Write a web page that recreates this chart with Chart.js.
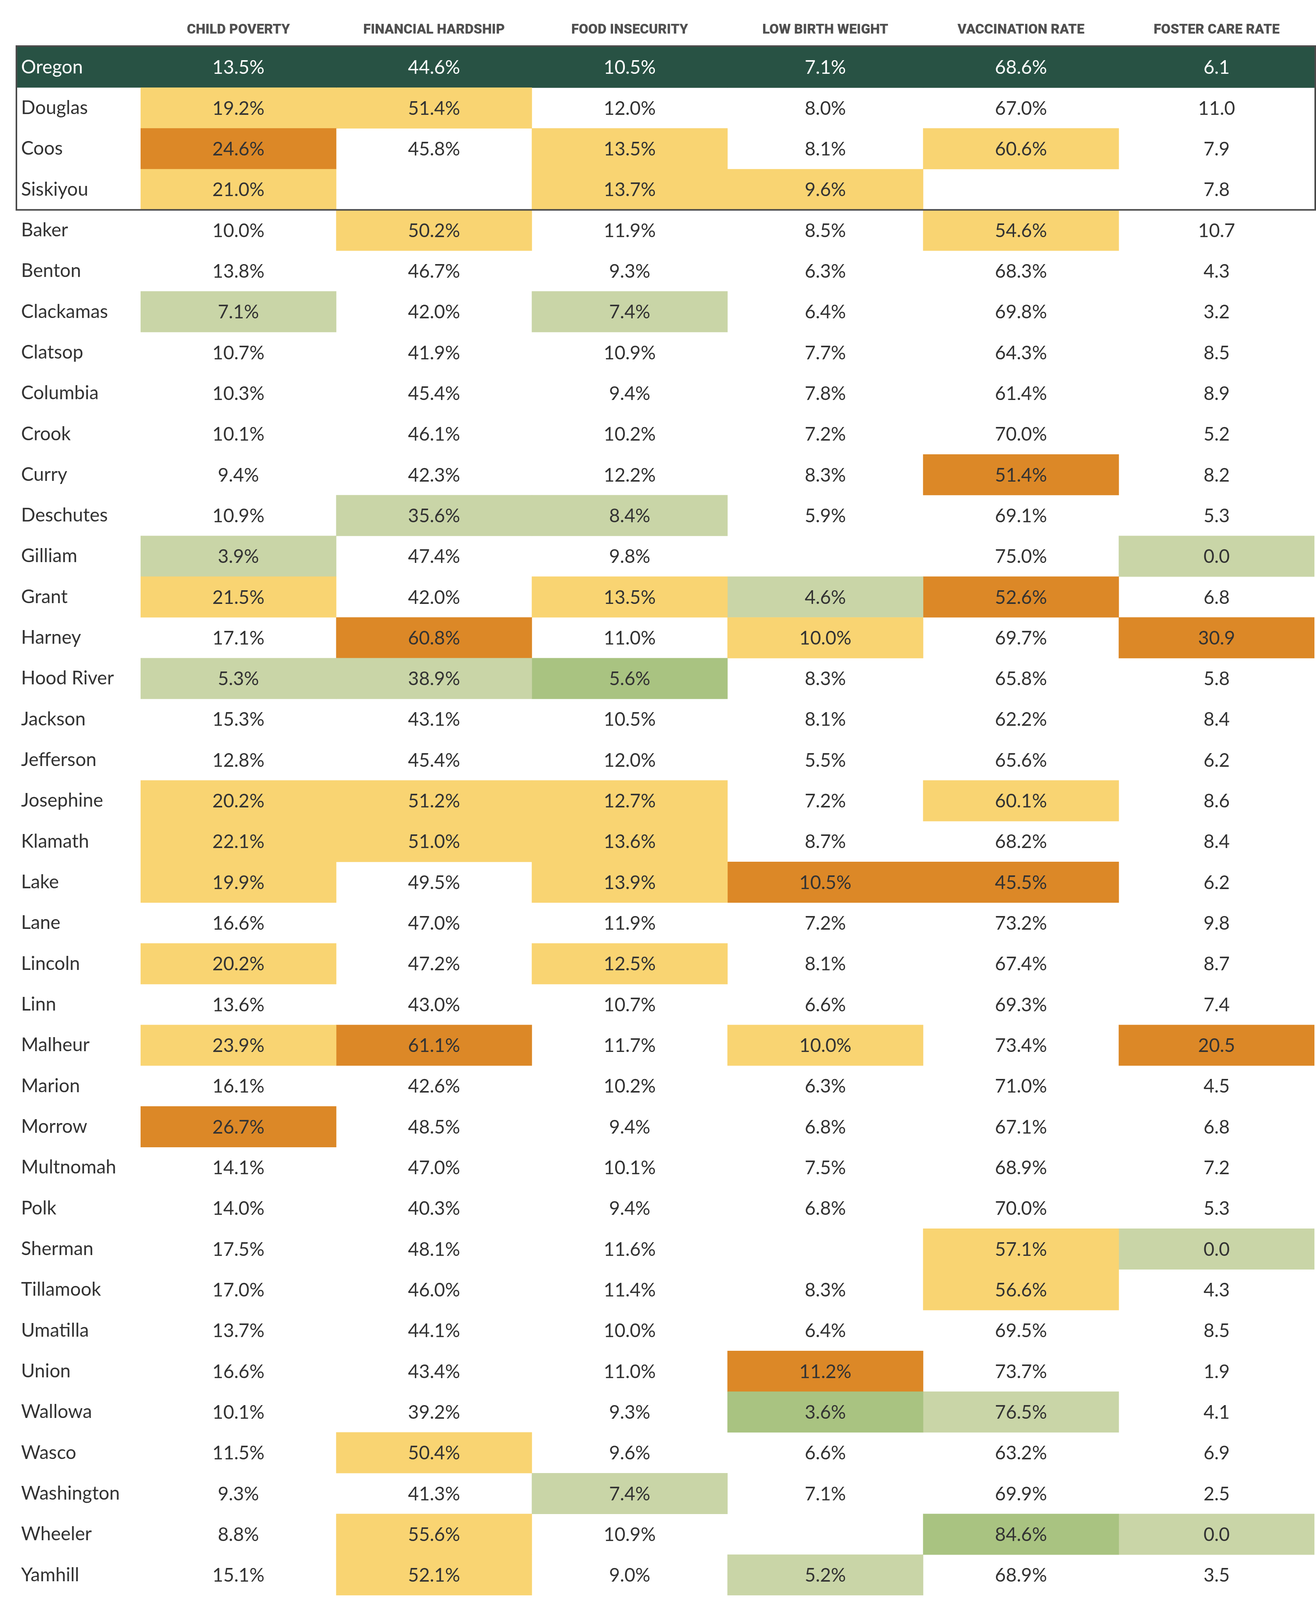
<!DOCTYPE html>
<html><head><meta charset="utf-8">
<script src="https://cdn.jsdelivr.net/npm/chart.js@4.4.1/dist/chart.umd.min.js"></script>
<style>html,body{margin:0;padding:0;background:#fff;}canvas{display:block;}</style>
</head><body>
<canvas id="c" width="3370" height="4116" style="width:3370px;height:4116px"></canvas>
<script>
// ---------- DATA ----------
const columns = ['CHILD POVERTY','FINANCIAL HARDSHIP','FOOD INSECURITY','LOW BIRTH WEIGHT','VACCINATION RATE','FOSTER CARE RATE'];
const counties = ['Oregon','Douglas','Coos','Siskiyou','Baker','Benton','Clackamas','Clatsop','Columbia','Crook','Curry','Deschutes','Gilliam','Grant','Harney','Hood River','Jackson','Jefferson','Josephine','Klamath','Lake','Lane','Lincoln','Linn','Malheur','Marion','Morrow','Multnomah','Polk','Sherman','Tillamook','Umatilla','Union','Wallowa','Wasco','Washington','Wheeler','Yamhill'];

const childPoverty      = [13.5,19.2,24.6,21.0,10.0,13.8,7.1,10.7,10.3,10.1,9.4,10.9,3.9,21.5,17.1,5.3,15.3,12.8,20.2,22.1,19.9,16.6,20.2,13.6,23.9,16.1,26.7,14.1,14.0,17.5,17.0,13.7,16.6,10.1,11.5,9.3,8.8,15.1];
const financialHardship = [44.6,51.4,45.8,null,50.2,46.7,42.0,41.9,45.4,46.1,42.3,35.6,47.4,42.0,60.8,38.9,43.1,45.4,51.2,51.0,49.5,47.0,47.2,43.0,61.1,42.6,48.5,47.0,40.3,48.1,46.0,44.1,43.4,39.2,50.4,41.3,55.6,52.1];
const foodInsecurity    = [10.5,12.0,13.5,13.7,11.9,9.3,7.4,10.9,9.4,10.2,12.2,8.4,9.8,13.5,11.0,5.6,10.5,12.0,12.7,13.6,13.9,11.9,12.5,10.7,11.7,10.2,9.4,10.1,9.4,11.6,11.4,10.0,11.0,9.3,9.6,7.4,10.9,9.0];
const lowBirthWeight    = [7.1,8.0,8.1,9.6,8.5,6.3,6.4,7.7,7.8,7.2,8.3,5.9,null,4.6,10.0,8.3,8.1,5.5,7.2,8.7,10.5,7.2,8.1,6.6,10.0,6.3,6.8,7.5,6.8,null,8.3,6.4,11.2,3.6,6.6,7.1,null,5.2];
const vaccinationRate   = [68.6,67.0,60.6,null,54.6,68.3,69.8,64.3,61.4,70.0,51.4,69.1,75.0,52.6,69.7,65.8,62.2,65.6,60.1,68.2,45.5,73.2,67.4,69.3,73.4,71.0,67.1,68.9,70.0,57.1,56.6,69.5,73.7,76.5,63.2,69.9,84.6,68.9];
const fosterCareRate    = [6.1,11.0,7.9,7.8,10.7,4.3,3.2,8.5,8.9,5.2,8.2,5.3,0.0,6.8,30.9,5.8,8.4,6.2,8.6,8.4,6.2,9.8,8.7,7.4,20.5,4.5,6.8,7.2,5.3,0.0,4.3,8.5,1.9,4.1,6.9,2.5,0.0,3.5];

// cell shading level per row: S = state row, Y = worse, O = much worse, L = better, G = much better, - = none
const childPovertyLevel      = ('SYOY' + '--L-----' + 'LY-L--' + 'YYY-Y-' + 'Y-O---' + '--------').split('');
const financialHardshipLevel = ('SY--Y' + '------L' + '--OL' + '--YY' + '----O' + '---------' + 'Y-YY').split('');
const foodInsecurityLevel    = ('S-YY' + '--L----L' + '-Y-G' + '--YYY-Y' + '------------' + 'L--').split('');
const lowBirthWeightLevel    = ('S--Y' + '---------' + 'LY' + '-----' + 'O' + '---' + 'Y' + '-------' + 'OG' + '---L').split('');
const vaccinationRateLevel   = ('S-Y-Y' + '-----' + 'O--O' + '----' + 'Y-O' + '--------' + 'YY--L--G-').split('');
const fosterCareRateLevel    = ('S' + '-----------' + 'L-O' + '---------' + 'O' + '----' + 'L' + '------' + 'L-').split('');

const columnValues = [childPoverty, financialHardship, foodInsecurity, lowBirthWeight, vaccinationRate, fosterCareRate];
const columnLevels = [childPovertyLevel, financialHardshipLevel, foodInsecurityLevel, lowBirthWeightLevel, vaccinationRateLevel, fosterCareRateLevel];
const columnSuffix = ['%','%','%','%','%',''];

// ---------- STYLE ----------
const LEVEL_COLORS = { S:'#285244', Y:'#f9d472', O:'#dc8827', L:'#c9d5a7', G:'#a9c381', '-':'rgba(255,255,255,0)' };
const TEXT = '#333333';
const BODY_FONT = 'Lato, "Noto Sans", sans-serif';
const BODY_SIZE = 48;

const datasets = columns.map((name, c) => ({
  label: name,
  data: counties.map(() => [c, c + 1]),
  values: columnValues[c],
  suffix: columnSuffix[c],
  backgroundColor: ctx => LEVEL_COLORS[columnLevels[c][ctx.dataIndex]] || LEVEL_COLORS['-'],
  borderWidth: 0,
  borderSkipped: false,
  grouped: false,
  barPercentage: 1,
  categoryPercentage: 1
}));

const tablePlugin = {
  id: 'tablePlugin',
  beforeDraw(chart) {
    const { ctx, chartArea, scales: { y } } = chart;
    ctx.save();
    ctx.fillStyle = '#ffffff';
    ctx.fillRect(0, 0, chart.width, chart.height);
    const band = y.getPixelForValue(1) - y.getPixelForValue(0);
    const top = y.getPixelForValue(0) - band / 2;
    const left = y.left - 12;
    ctx.fillStyle = LEVEL_COLORS.S;
    ctx.fillRect(left, top, chartArea.right + 2 - left, band);
    ctx.restore();
  },
  afterDatasetsDraw(chart) {
    const { ctx, chartArea, scales: { y } } = chart;
    ctx.save();
    ctx.font = `400 ${BODY_SIZE}px ${BODY_FONT}`;
    ctx.textAlign = 'center';
    ctx.textBaseline = 'alphabetic';
    chart.data.datasets.forEach((ds, di) => {
      const meta = chart.getDatasetMeta(di);
      meta.data.forEach((el, i) => {
        const v = ds.values[i];
        if (v === null || v === undefined) return;
        const p = el.getCenterPoint();
        ctx.fillStyle = i === 0 ? '#ffffff' : TEXT;
        ctx.fillText(v.toFixed(1) + ds.suffix, p.x, p.y + BODY_SIZE * 0.358);
      });
    });
    // box around the state row and the three highlighted counties
    const band = y.getPixelForValue(1) - y.getPixelForValue(0);
    const top = y.getPixelForValue(0) - band / 2;
    const bottom = y.getPixelForValue(3) + band / 2;
    const left = y.left - 12;
    ctx.strokeStyle = '#4a4a4a';
    ctx.lineWidth = 4;
    ctx.strokeRect(left, top - 2, chartArea.right + 2 - left, bottom - top + 2);
    ctx.restore();
  }
};

new Chart(document.getElementById('c'), {
  type: 'bar',
  data: { labels: counties, datasets },
  plugins: [tablePlugin],
  options: {
    indexAxis: 'y',
    responsive: false,
    animation: false,
    devicePixelRatio: 1,
    layout: { padding: { left: 54, top: 57, right: 4, bottom: 30 } },
    plugins: { legend: { display: false }, tooltip: { enabled: false } },
    scales: {
      x: { type: 'linear', min: 0, max: columns.length, display: false },
      xTop: {
        type: 'category',
        labels: columns,
        position: 'top',
        offset: true,
        grid: { display: false, drawTicks: false },
        border: { display: false },
        ticks: { color: '#505050', font: { family: 'Roboto, "Noto Sans", sans-serif', size: 35, weight: '900' }, padding: 22, maxRotation: 0, autoSkip: false },
        afterFit: s => { s.height = 63; }
      },
      y: {
        type: 'category',
        offset: true,
        grid: { display: false, drawTicks: false },
        border: { display: false },
        ticks: {
          crossAlign: 'far',
          autoSkip: false,
          color: ctx => ctx.index === 0 ? '#ffffff' : TEXT,
          font: { family: BODY_FONT, size: BODY_SIZE, weight: '400' }
        },
        afterFit: s => { s.width = 306; }
      }
    }
  }
});
</script>
</body></html>
